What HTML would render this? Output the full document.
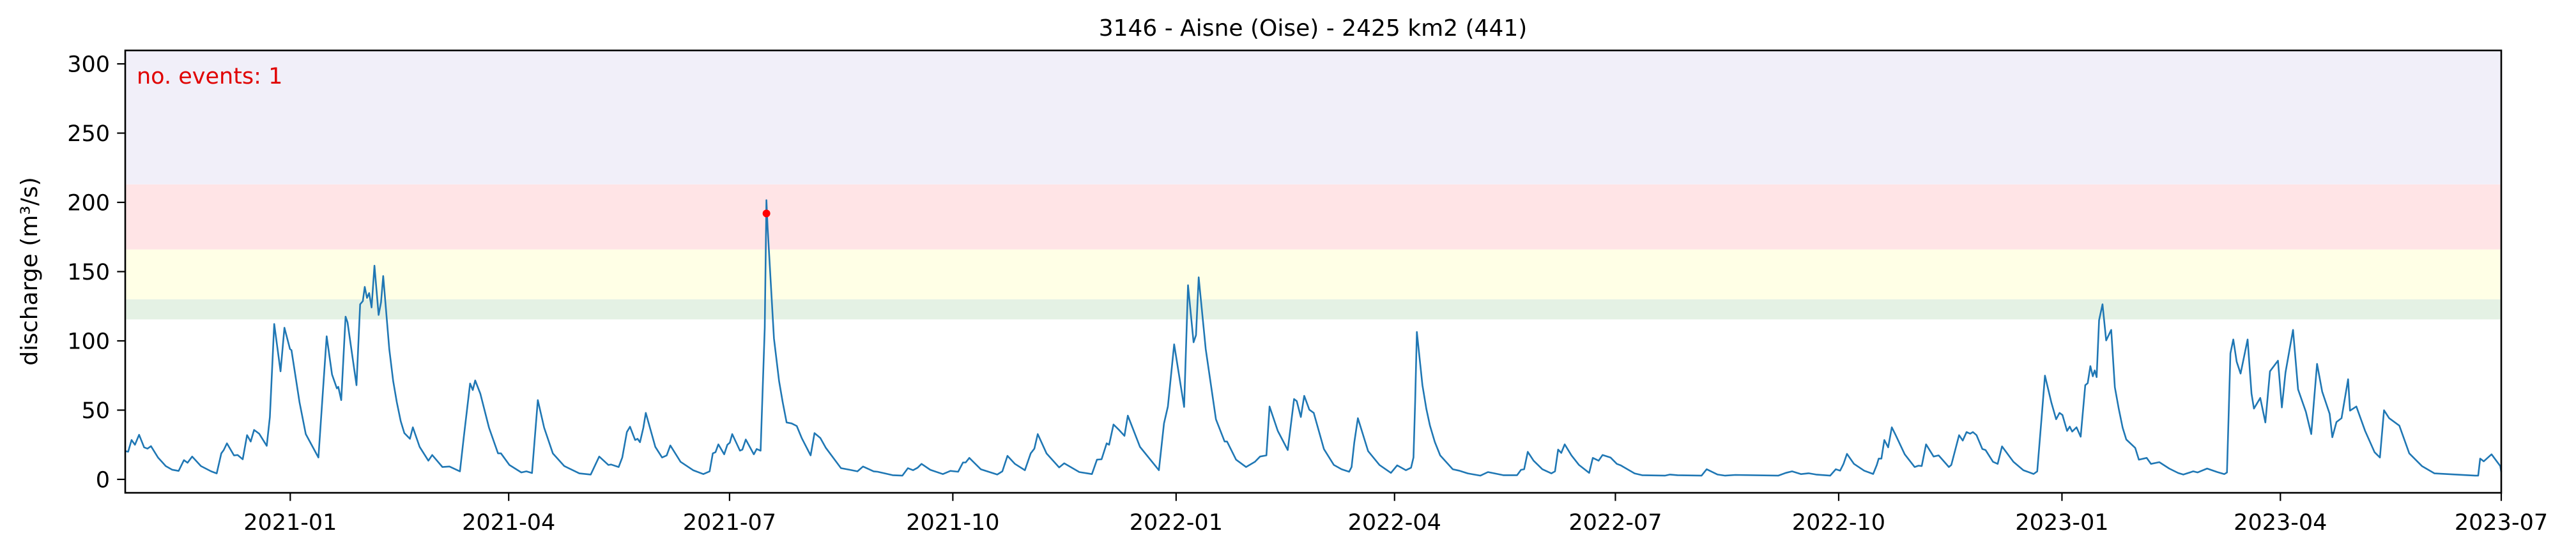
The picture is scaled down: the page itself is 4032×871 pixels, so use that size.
<!DOCTYPE html>
<html><head><meta charset="utf-8"><style>
html,body{margin:0;padding:0;background:#fff;}
svg{display:block;font-family:"DejaVu Sans","Liberation Sans",sans-serif;}
</style></head><body>
<svg id="chart" xmlns="http://www.w3.org/2000/svg" width="4032" height="871" viewBox="0 0 4032 871">
<rect width="4032" height="871" fill="#fff"/>
<g id="bands"></g>
<g id="series"></g>
<g id="axes"></g>
<text x="2055" y="56" font-size="36" text-anchor="middle" fill="#000">3146 - Aisne (Oise) - 2425 km2 (441)</text>
<text x="214" y="131" font-size="35" fill="#e00000">no. events: 1</text>
<text transform="translate(58,425) rotate(-90)" font-size="36" text-anchor="middle" fill="#000">discharge (m³/s)</text>
</svg>
<script>
// days since 2020-10-25
const days = [0,1.2,2.6,4,5.7,7.8,9.2,10.6,13.5,16.7,19.3,22,24.2,25.7,27.6,31.2,35.4,37.7,39.6,40.6,41.9,44.8,46.3,48.4,50.2,51.7,53.1,55.2,58.3,59.6,61.4,64,65.6,67.9,68.5,71.8,74.4,79.6,81,83,85.2,87.2,87.8,89,90.8,91.6,95.3,96.8,97.9,98.7,99.6,100.5,101.5,102.7,104.4,105.4,106.3,108.8,110.4,111.9,113.5,115,117.3,118.5,121.3,124.9,126.5,130.7,133.6,137.9,139.5,142.1,143.2,144.2,146.3,149.9,153.6,154.8,158.3,163.2,165.3,167.6,170,172.6,176.2,180.9,187.1,191.8,195.3,199.1,200.2,203.3,204.8,206.7,208,210.1,211.1,212.1,213.5,214.5,218.4,221.2,223.1,224.6,228.8,234,238.2,240.8,242.1,243.2,244.4,246.8,248.1,249.1,250.1,253.3,254.3,255.7,259,260.2,261.8,263.5,264.2,264.7,267.3,269.4,270.9,272.5,274.6,276.7,278.8,282.4,284,286.4,288.7,294.9,298.6,301.7,304,308.4,310,316.2,320.2,322.5,324.6,326.5,328.1,331.7,336.9,340,343.2,345.2,346.3,347.8,352.5,359.3,361.4,363.5,366.6,370.7,373.1,374.6,376,379.6,384.8,386.9,393.1,398.3,400.4,402.3,404.4,405.4,407.2,409.3,411.7,413.1,418.1,425.9,428,429.6,432.2,436.3,437.9,440.2,441.2,442.3,445.2,449.4,453,454,457.7,461.8,465.5,467.6,470.2,471.5,474.9,479,481.6,482.7,484.4,485.8,487.9,489.7,493.9,498,501.2,504.3,505.3,506.4,507.9,512.1,516.8,521.5,524.1,527.7,529.8,530.8,531.5,532.2,534.5,536.1,537.6,539.6,541.8,547,549.6,553.2,558.4,561.5,567.8,573.5,575.1,576.4,577.9,580.3,583.9,587.6,589.1,590.4,591.7,593.1,595.9,599,603.2,604.7,607.1,608.7,612,614.6,616.2,621.9,625,634.4,636.5,639.6,649.5,651.6,653,656.1,659.2,663.4,681.1,684.2,686.8,690.5,693.6,696.7,702.5,704.8,706.6,708,709.4,712.3,716.5,720.2,721.7,722.5,723.6,724.8,726.4,727.9,729.5,733.2,737.3,738.9,740.2,742,745.1,747.2,751.4,752.4,755.6,757.1,758.7,760.2,761.3,762.8,765.2,766.5,769.6,771.5,773.3,778,782.1,786.3,787.8,789.4,791,793.6,795.6,797,798.2,800.1,801.2,802.2,804,805.7,807.6,808.6,809.7,810.7,811.5,812.3,813.3,814.7,816.2,818.3,819.8,821.4,823,824.5,828.2,829.7,832.9,834.7,838.1,842.2,845.9,848,852.1,853.9,857.8,862,864.9,866,867.4,868.6,870,871.6,874.5,876.1,877.1,879.7,881.8,883.7,887,888.6,890.1,893.2,895.3,898.5,900.7,903.1,905.2,908.3,909.4,911.1,913.2,915.9,916.7,919.3,922.9,926.8,929,930.7,932.8,937,941.1,946.3,951.5,968.2,969.5,970.3,971.8,975,978.6,979];
const discharge = [20.4,20,28.4,25,32.2,23.1,22.2,24,15.8,9.6,7,6.1,13.9,12,16.5,9.6,5.8,4.3,18.8,21.2,26,17.3,17.6,14.5,31.9,27.3,35.7,33,24.2,45,112.2,78,109.5,94.1,93.3,55.7,32.7,15.8,51.9,103.3,75.7,65.7,66.8,57.2,117.5,113.3,68,126.4,128.7,139,131,134.5,124.1,154.3,118.7,127.9,146.8,94.1,71,55.7,42,33.4,29.3,37.6,23.5,13.5,17.6,8.9,9.3,5.8,30.4,69.2,64.5,71.4,61.9,37.3,18.8,18.8,10.4,5,5.8,4.6,57.2,37.3,18.8,9.6,4.3,3.5,16.5,10.4,10.7,8.9,15.8,34.2,38,28.4,29.3,26.8,37.3,48,23.5,15.8,17.3,24.5,12.7,6.6,3.8,5.8,18.8,19.6,25.3,18.1,25,26.5,32.7,20.7,21.5,28.8,18.1,21.9,20.7,109.5,201.6,181.7,101.8,71,55.7,41.1,40.4,38.5,29.6,17.3,33.4,29.9,22.7,8.1,6.9,5.8,9.3,5.8,5.5,3,2.7,8.1,6.6,8.4,11.2,6.9,3.8,6.1,5.5,12.2,12.2,15.5,7.3,3.5,5.8,17,11.2,6.6,18.8,22.2,32.7,18.8,8.6,11.6,5.3,3.8,14.2,14.5,26,25,39.6,36,31.4,46,23.5,6.6,40.4,52.6,97.5,52.3,140.2,99,104.1,145.9,94.1,43.4,27.3,27.3,14.2,8.9,12.7,16.5,17.3,52.6,35,21.2,58,56.5,45,60.3,50.3,48,21.9,10.4,7.3,5.5,8.9,26.5,44.2,20.4,10.4,4.7,10.1,6.6,8.4,15.8,55.7,106.4,68,51,38.8,27,17.3,7.3,6.3,4.3,2.7,5.3,3,3,6.9,7.3,19.9,13.5,7.3,4.3,5.8,21.5,19.1,25.3,17.3,10.4,4.7,15.5,13.5,17.6,15.8,11.2,10.1,4.3,3,2.7,3.5,3,2.7,7.3,6.1,3.5,2.7,3.2,2.7,4.7,5.8,3.8,4.4,3.5,2.7,7.3,6.3,11.2,18.4,11.2,6.3,3.9,10.4,15,15,28.4,23.1,37.6,31.9,18.1,8.9,9.9,9.6,25.3,16.5,17.3,8.9,10.4,31.9,28,34.2,33,34.2,31.9,21.9,21.2,12.7,11.2,23.8,12.7,6.6,3.9,5.8,40.3,74.9,55.7,43.4,48,46.5,35,38.1,34.5,37.6,30.8,68,69.5,81.8,74.4,78.7,73.8,114.9,126.4,100.3,107.9,66.5,51,37.3,28.8,22.7,14.2,15.5,11.2,12.4,7.8,4.6,3.5,5.8,5,7.8,5.3,3.8,5,91,101,84.9,76.4,101,61.9,51.1,58.8,41.1,78,85.7,51.9,77.2,107.9,64.9,48.8,32.7,83.4,63.4,47.3,30.4,41.4,44.2,72.3,49.6,52.6,35,19.6,15.8,49.9,44.2,38.8,18.8,9.6,4.3,2.7,2.7,15,13,18.1,9.6,5.3,4.6];
const eventDays = [264.2];
const eventValues = [192];
const bandLimits = [115.5,130,166,213,310];
const bandColors = ["#e4f1e4","#ffffe6","#ffe4e6","#f1eff9"];
const bandNames = ["band-green","band-yellow","band-red","band-purple"];
const yTicks = [0,50,100,150,200,250,300];
const xTickDays = [68,158,249,341,433,523,614,706,798,888,979];
const xTickLabels = ["2021-01","2021-04","2021-07","2021-10","2022-01","2022-04","2022-07","2022-10","2023-01","2023-04","2023-07"];

const L=196,R=3915,T=79,B=772;
const xMin=0,xMax=979,yMin=-9.7,yMax=309.7;
const xs=d=>L+(d-xMin)/(xMax-xMin)*(R-L);
const ys=v=>B-(v-yMin)/(yMax-yMin)*(B-T);
const NS="http://www.w3.org/2000/svg";
function mk(tag,attrs,parent){const e=document.createElementNS(NS,tag);for(const k in attrs)e.setAttribute(k,attrs[k]);parent.appendChild(e);return e;}

const bands=document.getElementById('bands');
for(let i=0;i<bandColors.length;i++){
  const lo=bandLimits[i],hi=Math.min(bandLimits[i+1],yMax);
  const r=mk('rect',{x:L,y:ys(hi),width:R-L,height:ys(lo)-ys(hi),fill:bandColors[i]},bands);
  
  
}
const series=document.getElementById('series');
let d='';
for(let i=0;i<days.length;i++){d+=(i?'L':'M')+xs(days[i]).toFixed(1)+' '+ys(discharge[i]).toFixed(1);}
const line=mk('path',{d:d,fill:'none',stroke:'#1f77b4','stroke-width':2.6,'stroke-linejoin':'round'},series);


for(let i=0;i<eventDays.length;i++){
  const c=mk('circle',{cx:xs(eventDays[i]),cy:ys(eventValues[i]),r:6,fill:'#ff0000'},series);
  
  
}
const axes=document.getElementById('axes');
const frame=mk('rect',{x:L,y:T,width:R-L,height:B-T,fill:'none',stroke:'#000','stroke-width':2.6},axes);


for(const v of yTicks){
  const y=ys(v);
  const t=mk('line',{x1:L-12.7,x2:L,y1:y,y2:y,stroke:'#000','stroke-width':2.2},axes);
  
  
  const lb=mk('text',{x:L-24,y:y+12.5,'font-size':35,'text-anchor':'end',fill:'#000'},axes);
  lb.textContent=v;
  
  
}
for(let i=0;i<xTickDays.length;i++){
  const x=xs(xTickDays[i]);
  const t=mk('line',{x1:x,x2:x,y1:B,y2:B+12.7,stroke:'#000','stroke-width':2.2},axes);
  
  
  const lb=mk('text',{x:x,y:B+58,'font-size':35,'text-anchor':'middle',fill:'#000'},axes);
  lb.textContent=xTickLabels[i];
  
  
}
</script>
</body></html>
